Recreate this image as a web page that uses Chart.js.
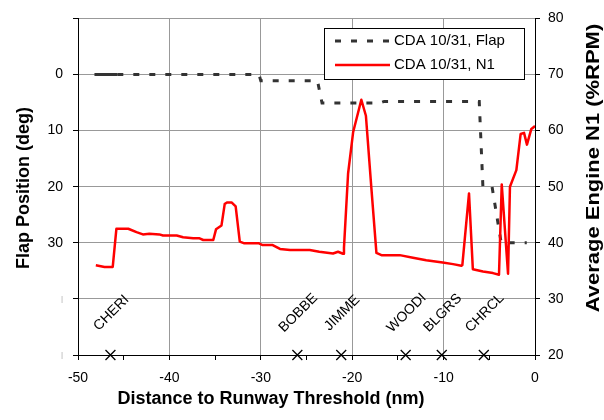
<!DOCTYPE html>
<html>
<head>
<meta charset="utf-8">
<script src="https://cdn.jsdelivr.net/npm/chart.js@4"></script>
<style>
  body { margin: 0; background: #fff; }
  canvas { display: block; }
</style>
</head>
<body>
<canvas id="cda" width="604" height="420"></canvas>
<script>
const FONT = '"Liberation Sans", Arial, sans-serif';

// flap position (deg) against distance to threshold (nm)
const flapDist = [-48.2, -45.7, -30.2, -30.0, -23.8, -23.3, -17.0, -16.5, -6.1, -5.7, -4.7, -3.7, -0.9];
const flapDeg  = [0, 0, 0, 1.1, 1.1, 5.1, 5.1, 4.8, 4.8, 20, 20, 30, 30];

// average engine N1 (%RPM)
const n1Dist = [-48.05, -47.1, -46.2, -45.8, -44.5, -43.6, -42.9, -42.2, -41.1, -40.7, -39.2, -38.5, -37.4,
  -36.7, -36.3, -35.2, -34.9, -34.3, -33.95, -33.7, -33.2, -32.75, -32.3, -31.8, -30.2, -29.8, -28.7, -27.9,
  -26.8, -25.75, -24.65, -23.6, -22.1, -21.55, -21.0, -20.9, -20.45, -19.9, -19.0, -18.5, -17.9, -17.35, -16.8,
  -15.5, -14.8, -13.35, -11.9, -10.1, -8.97, -8.05, -7.95, -7.22, -6.8, -5.69, -4.6, -3.94, -3.64, -2.95,
  -2.74, -2.04, -1.57, -1.2, -0.88, -0.4, 0];
const n1Pct = [36.0, 35.7, 35.7, 42.5, 42.5, 41.9, 41.5, 41.6, 41.5, 41.3, 41.3, 41.0, 40.8,
  40.8, 40.5, 40.5, 42.4, 43.1, 46.9, 47.2, 47.2, 46.5, 40.2, 39.9, 39.9, 39.6, 39.6, 38.9,
  38.7, 38.7, 38.7, 38.4, 38.1, 38.4, 38.05, 39.1, 52.35, 59.7, 65.5, 62.65, 49.7, 38.2, 37.8,
  37.8, 37.8, 37.35, 36.9, 36.5, 36.2, 35.9, 36.0, 48.8, 35.3, 34.9, 34.6, 34.3, 50.4, 34.5,
  50.0, 52.95, 59.4, 59.6, 57.5, 60.3, 60.8];

// waypoints along the approach
const waypointNames = ['CHERI', 'BOBBE', 'JIMME', 'WOODI', 'BLGRS', 'CHRCL'];
const waypointDist  = [-46.45, -26.0, -21.2, -14.15, -10.2, -5.6];

const seriesNames = ['CDA 10/31, Flap', 'CDA 10/31, N1'];

const xTitle = 'Distance to Runway Threshold (nm)';
const yLeftTitle = 'Flap Position (deg)';
const yRightTitle = 'Average Engine N1 (%RPM)';

const FLAP_COLOR = '#333333';
const N1_COLOR = '#ff0000';
const FLAP_DASH = [6, 10];

function pairs(xs, ys) {
  return xs.map((x, i) => ({ x: x, y: ys[i] }));
}

// legend box, waypoint names and axis titles
const extras = {
  id: 'extras',
  afterDraw(chart) {
    const ctx = chart.ctx;
    const xs = chart.scales.x;

    ctx.save();
    ctx.fillStyle = '#000';
    ctx.font = '14px ' + FONT;
    ctx.textAlign = 'center';
    ctx.textBaseline = 'middle';
    waypointNames.forEach((name, i) => {
      const px = xs.getPixelForValue(waypointDist[i]);
      ctx.save();
      ctx.translate(px + 1, 313);
      ctx.rotate(-Math.PI / 4);
      ctx.fillText(name, 0, 0);
      ctx.restore();
    });

    // legend
    ctx.fillStyle = '#fff';
    ctx.fillRect(324.5, 28.5, 200, 51);
    ctx.strokeStyle = '#000';
    ctx.lineWidth = 1;
    ctx.strokeRect(324.5, 28.5, 200, 51);

    ctx.lineWidth = 3;
    ctx.strokeStyle = FLAP_COLOR;
    ctx.setLineDash(FLAP_DASH);
    ctx.beginPath();
    ctx.moveTo(335, 41);
    ctx.lineTo(391, 41);
    ctx.stroke();
    ctx.setLineDash([]);
    ctx.lineWidth = 2.5;
    ctx.strokeStyle = N1_COLOR;
    ctx.beginPath();
    ctx.moveTo(335, 65);
    ctx.lineTo(390, 65);
    ctx.stroke();

    ctx.fillStyle = '#000';
    ctx.font = '15px ' + FONT;
    ctx.textAlign = 'left';
    ctx.fillText(seriesNames[0], 394, 41);
    ctx.fillText(seriesNames[1], 394, 65);

    // axis titles
    ctx.font = 'bold 18px ' + FONT;
    ctx.textAlign = 'center';
    ctx.fillText(xTitle, 271, 399);

    ctx.save();
    ctx.translate(24, 188);
    ctx.rotate(-Math.PI / 2);
    ctx.fillText(yLeftTitle, 0, 0);
    ctx.restore();

    // right title is drawn stretched along its length
    ctx.save();
    ctx.translate(594, 168);
    ctx.rotate(-Math.PI / 2);
    ctx.scale(1.22, 1);
    ctx.fillText(yRightTitle, 0, 0);
    ctx.restore();

    ctx.restore();
  }
};

new Chart(document.getElementById('cda'), {
  type: 'line',
  data: {
    datasets: [
      {
        label: seriesNames[0],
        data: pairs(flapDist, flapDeg),
        yAxisID: 'yFlap',
        borderColor: FLAP_COLOR,
        borderWidth: 3,
        borderDash: FLAP_DASH,
        borderCapStyle: 'butt',
        segment: {
          // the first stretch is logged densely and reads as a solid bar
          borderDash: c => c.p0.parsed.x < -46 ? [] : FLAP_DASH
        },
        pointRadius: 0,
        tension: 0,
        order: 2
      },
      {
        label: seriesNames[1],
        data: pairs(n1Dist, n1Pct),
        yAxisID: 'yN1',
        borderColor: N1_COLOR,
        borderWidth: 2.5,
        borderJoinStyle: 'round',
        pointRadius: 0,
        tension: 0,
        order: 1
      },
      {
        label: 'waypoints',
        type: 'scatter',
        data: waypointDist.map(d => ({ x: d, y: 20 })),
        yAxisID: 'yN1',
        pointStyle: 'crossRot',
        pointRadius: 7,
        borderColor: '#000',
        borderWidth: 1.3,
        showLine: false,
        clip: false,
        order: 0
      }
    ]
  },
  options: {
    responsive: false,
    animation: false,
    events: [],
    layout: { padding: { top: 15, left: 0, right: 0, bottom: 0 } },
    plugins: {
      legend: { display: false },
      tooltip: { enabled: false }
    },
    scales: {
      x: {
        type: 'linear',
        min: -50,
        max: 0,
        afterFit: s => { s.height = 65; },
        afterBuildTicks: s => {
          s.ticks = [];
          for (let v = -50; v <= 0; v += 5) s.ticks.push({ value: v });
        },
        ticks: {
          padding: 10,
          color: '#000',
          font: { family: FONT, size: 14 },
          maxRotation: 0,
          callback: v => v % 10 === 0 ? v : ''
        },
        grid: {
          color: c => (c.tick && c.tick.value % 10 === 0 && c.tick.value > -50 && c.tick.value < 0) ? '#999' : 'rgba(0,0,0,0)',
          tickColor: '#000',
          tickLength: 5
        },
        border: { color: '#000', width: 1 }
      },
      yFlap: {
        type: 'linear',
        position: 'left',
        reverse: true,
        min: -10,
        max: 50,
        afterFit: s => { s.width = 78; },
        ticks: {
          stepSize: 10,
          padding: 10,
          color: c => (c.tick && c.tick.value >= 40) ? '#aaa' : '#000',
          font: c => ({ family: FONT, size: (c.tick && c.tick.value >= 40) ? 8 : 14 }),
          callback: v => v < 0 ? '' : (v >= 40 ? '|' : v)
        },
        grid: { color: '#999', tickColor: '#000', tickLength: 5 },
        border: { color: '#000', width: 1 }
      },
      yN1: {
        type: 'linear',
        position: 'right',
        min: 20,
        max: 80,
        afterFit: s => { s.width = 69; },
        ticks: {
          stepSize: 10,
          padding: 8,
          color: '#000',
          font: { family: FONT, size: 14 }
        },
        grid: { drawOnChartArea: false, tickColor: '#000', tickLength: 5 },
        border: { color: '#000', width: 1 }
      }
    }
  },
  plugins: [extras]
});
</script>
</body>
</html>
